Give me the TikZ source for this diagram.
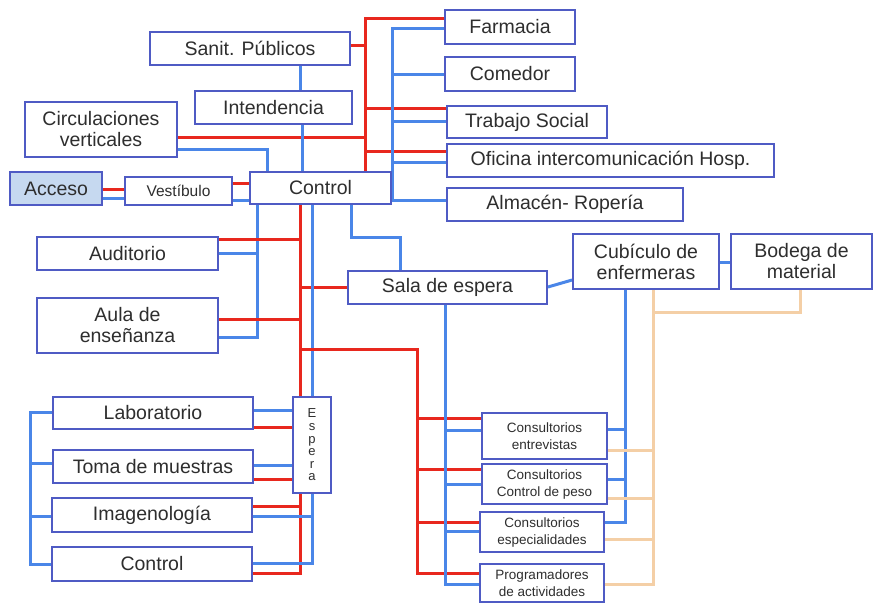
\documentclass[tikz,border=0pt]{standalone}
\usepackage{fontspec}
\setmainfont{Liberation Sans}
\usetikzlibrary{backgrounds}
\definecolor{redl}{HTML}{E8281E}
\definecolor{bluel}{HTML}{4A86E8}
\definecolor{peach}{HTML}{F4CFA6}
\definecolor{boxb}{HTML}{4F5BC4}
\definecolor{accfill}{HTML}{C6D9F0}
\definecolor{txt}{HTML}{2E2E2E}
\begin{document}
\begin{tikzpicture}[x=1pt,y=-1pt,
  R/.style={draw=redl,line width=3pt},
  B/.style={draw=bluel,line width=3pt},
  P/.style={draw=peach,line width=3pt},
  box/.style={draw=boxb,line width=1.8pt,fill=white,inner sep=0pt,align=center,text=txt,
    font=\fontsize{19.5}{21}\selectfont},
  sbox/.style={box,font=\fontsize{13.5}{17}\selectfont},
]
\useasboundingbox (0,0) rectangle (874,603);
% ---------- nodes ----------
\path
 (250,48.5) node[box,minimum width=200pt,minimum height=33pt] (sanit) {Sanit. Públicos}
 (273.5,107.5) node[box,minimum width=157pt,minimum height=33pt] (intend) {Intendencia}
 (101,129.5) node[box,minimum width=152pt,minimum height=55pt] (circ) {Circulaciones\\verticales}
 (56,188.5) node[box,fill=accfill,minimum width=92pt,minimum height=33pt] (acceso) {Acceso}
 (178.5,191) node[box,font=\fontsize{15.5}{18}\selectfont,minimum width=107pt,minimum height=28pt] (vest) {Vestíbulo}
 (320.5,188) node[box,minimum width=141pt,minimum height=32pt] (control) {Control}
 (510,27) node[box,minimum width=130pt,minimum height=34pt] (farm) {Farmacia}
 (510,74) node[box,minimum width=130pt,minimum height=34pt] (comedor) {Comedor}
 (527,122) node[box,minimum width=160pt,minimum height=32pt] (trabajo) {Trabajo Social}
 (610.5,160.5) node[box,minimum width=327pt,minimum height=33pt] (oficina) {Oficina intercomunicación Hosp.}
 (565,204.5) node[box,minimum width=236pt,minimum height=33pt] (almacen) {Almacén- Ropería}
 (127.5,253.5) node[box,minimum width=181pt,minimum height=33pt] (audit) {Auditorio}
 (127.5,325.5) node[box,minimum width=181pt,minimum height=55pt] (aula) {Aula de\\enseñanza}
 (447.5,287.5) node[box,minimum width=199pt,minimum height=33pt] (sala) {Sala de espera}
 (646,261.5) node[box,minimum width=146pt,minimum height=55pt] (cubic) {Cubículo de\\enfermeras}
 (801.5,261.5) node[box,minimum width=141pt,minimum height=55pt] (bodega) {Bodega de\\material}
 (544.5,436) node[sbox,minimum width=125pt,minimum height=46pt] (entrev) {Consultorios\\entrevistas}
 (544.5,484) node[sbox,minimum width=125pt,minimum height=40pt] (peso) {Consultorios\\Control de peso}
 (542,532) node[sbox,minimum width=124pt,minimum height=40pt] (espec) {Consultorios\\especialidades}
 (542,583) node[sbox,minimum width=124pt,minimum height=38pt] (progr) {Programadores\\de actividades}
 (153,413) node[box,minimum width=200pt,minimum height=32pt] (lab) {Laboratorio}
 (153,466.5) node[box,minimum width=200pt,minimum height=33pt] (toma) {Toma de muestras}
 (152,515) node[box,minimum width=200pt,minimum height=34pt] (imagen) {Imagenología}
 (152,564) node[box,minimum width=200pt,minimum height=34pt] (control2) {Control}
 (312,445) node[sbox,font=\fontsize{13}{12.6}\selectfont,minimum width=38pt,minimum height=96pt] (espera) {E\\s\\p\\e\\r\\a};
% ---------- trunk coordinates ----------
\coordinate (rt) at (365,18);
\coordinate (bt) at (392,28);
\coordinate (rl) at (300,573);
\coordinate (bl) at (312,563);
\coordinate (rc) at (417,573);
\coordinate (bs) at (445,584);
\coordinate (bc) at (625,522);
\coordinate (pc) at (653,584);
\coordinate (lb) at (30,564);
% ---------- connectors ----------
\begin{pgfonlayer}{background}
\fill[white] (0,0) rectangle (874,603);
% upper red tree
\draw[R] (control.north -| rt) -- (rt) -- (farm.west |- rt);
\draw[R] (sanit.east |- 0,45) -- (rt |- 0,45);
\draw[R] (rt |- 0,108) -- (trabajo.west |- 0,108);
\draw[R] (circ.east |- 0,137) -- (rt |- 0,137);
\draw[R] (rt |- 0,151) -- (oficina.west |- 0,151);
% upper blue tree
\draw[B] (farm.west |- bt) -- (bt) -- (bt |- 0,200) -- (almacen.west |- 0,200);
\draw[B] (bt |- 0,74) -- (comedor.west);
\draw[B] (bt |- 0,121) -- (trabajo.west |- 0,121);
\draw[B] (bt |- 0,162) -- (oficina.west |- 0,162);
\draw[B] (sanit.south -| 300,0) -- (intend.north -| 300,0);
\draw[B] (intend.south -| 302,0) -- (control.north -| 302,0);
\draw[B] (circ.east |- 0,149) -- (267,149) -- (control.north -| 267,0);
% acceso / vestibulo
\draw[R] (acceso.east |- 0,189) -- (vest.west |- 0,189);
\draw[B] (acceso.east |- 0,198) -- (vest.west |- 0,198);
\draw[R] (vest.east |- 0,183) -- (control.west |- 0,183);
\draw[B] (vest.east |- 0,200) -- (control.west |- 0,200);
% lower left
\draw[B] (control.south -| 257,0) -- (257,337) -- (aula.east |- 0,337);
\draw[B] (audit.east |- 0,253) -- (257,253);
\draw[R] (control.south -| rl) -- (rl) -- (control2.east |- rl);
\draw[R] (audit.east |- 0,239) -- (rl |- 0,239);
\draw[R] (aula.east |- 0,319) -- (rl |- 0,319);
\draw[R] (rl |- 0,287) -- (sala.west |- 0,287);
\draw[B] (control.south -| bl) -- (bl) -- (control2.east |- bl);
\draw[R] (imagen.east |- 0,506) -- (rl |- 0,506);
\draw[B] (imagen.east |- 0,516) -- (bl |- 0,516);
\draw[B] (lab.east |- 0,410) -- (espera.west |- 0,410);
\draw[R] (lab.east |- 0,427) -- (espera.west |- 0,427);
\draw[B] (toma.east |- 0,465) -- (espera.west |- 0,465);
\draw[R] (toma.east |- 0,479) -- (espera.west |- 0,479);
\draw[B] (lab.west |- 0,412) -- (lb |- 0,412) -- (lb) -- (control2.west |- lb);
\draw[B] (lb |- 0,463) -- (toma.west |- 0,463);
\draw[B] (lb |- 0,516) -- (imagen.west |- 0,516);
% sala de espera
\draw[B] (control.south -| 351,0) -- (351,237) -- (400,237) -- (sala.north -| 400,0);
\draw[B] (sala.east |- 0,287) -- (cubic.west |- 0,280);
\draw[B] (cubic.east |- 0,262) -- (bodega.west |- 0,262);
% consultorios red
\draw[R] (rl |- 0,349) -- (rc |- 0,349) -- (rc) -- (progr.west |- rc);
\draw[R] (rc |- 0,418) -- (entrev.west |- 0,418);
\draw[R] (rc |- 0,469) -- (peso.west |- 0,469);
\draw[R] (rc |- 0,522) -- (espec.west |- 0,522);
% consultorios blue from sala
\draw[B] (sala.south -| bs) -- (bs) -- (progr.west |- bs);
\draw[B] (bs |- 0,430) -- (entrev.west |- 0,430);
\draw[B] (bs |- 0,484) -- (peso.west |- 0,484);
\draw[B] (bs |- 0,531) -- (espec.west |- 0,531);
% blue from cubiculo
\draw[B] (cubic.south -| bc) -- (bc) -- (espec.east |- bc);
\draw[B] (entrev.east |- 0,429) -- (bc |- 0,429);
\draw[B] (peso.east |- 0,479) -- (bc |- 0,479);
% peach
\draw[P] (cubic.south -| pc) -- (pc) -- (progr.east |- pc);
\draw[P] (pc |- 0,312) -- (800,312) -- (bodega.south -| 800,0);
\draw[P] (entrev.east |- 0,450) -- (pc |- 0,450);
\draw[P] (peso.east |- 0,498) -- (pc |- 0,498);
\draw[P] (espec.east |- 0,539) -- (pc |- 0,539);
\end{pgfonlayer}
\end{tikzpicture}
\end{document}
